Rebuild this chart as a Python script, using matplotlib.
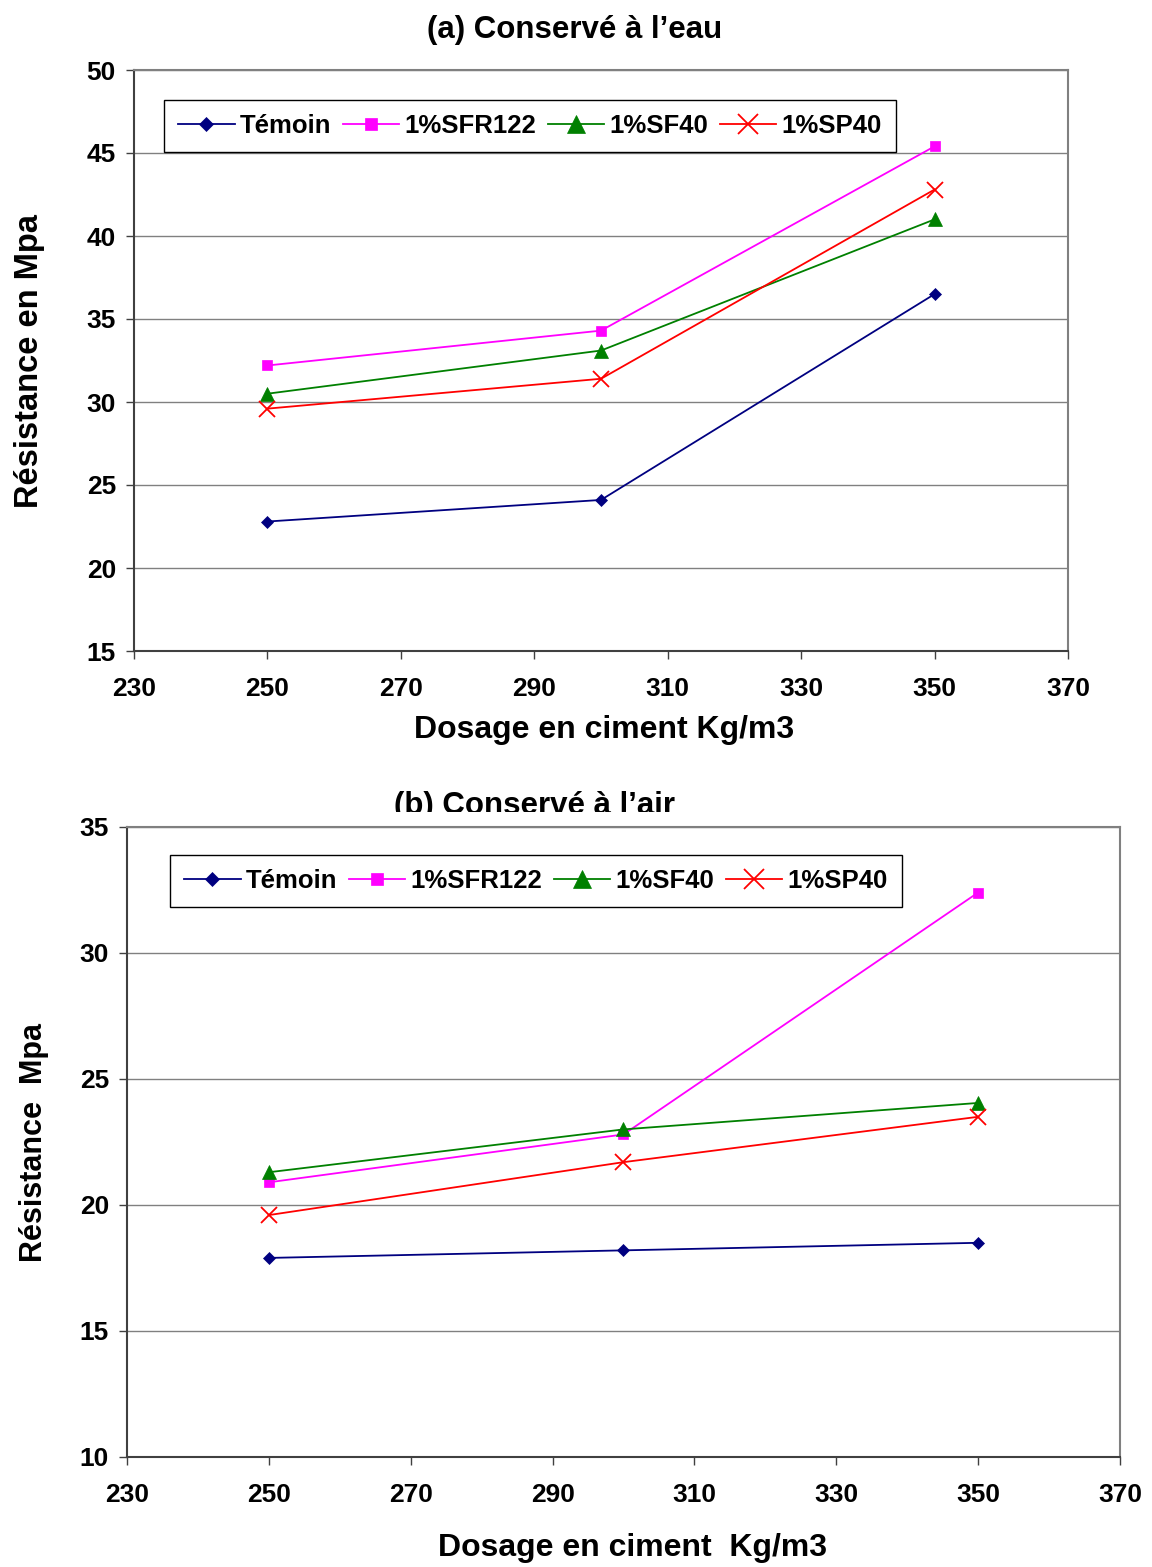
import matplotlib.pyplot as plt
from matplotlib.transforms import Bbox

# cement dosage (kg/m3)
dosage = [250, 300, 350]

# (a) cured in water
eau_temoin = [22.8, 24.1, 36.5]
eau_sfr122 = [32.2, 34.3, 45.4]
eau_sf40 = [30.5, 33.1, 41.0]
eau_sp40 = [29.6, 31.4, 42.8]

# (b) cured in air
air_temoin = [17.9, 18.2, 18.5]
air_sfr122 = [20.9, 22.8, 32.4]
air_sf40 = [21.3, 23.0, 24.05]
air_sp40 = [19.6, 21.7, 23.5]

labels = ['Témoin', '1%SFR122', '1%SF40', '1%SP40']
colors = ['#000080', '#FF00FF', '#008000', '#FF0000']
markers = ['D', 's', '^', 'x']
msizes = [6, 7, 10, 11]

plt.rcParams['font.family'] = ['Liberation Sans', 'DejaVu Sans']
plt.rcParams['font.weight'] = 'bold'

W, H = 1152, 1567
fig = plt.figure(figsize=(W / 100, H / 100), dpi=100)


def px(x0, y0, x1, y1):
    return [x0 / W, 1 - y1 / H, (x1 - x0) / W, (y1 - y0) / H]


def draw(ax, series, ylim, yticks, leg_box):
    for vals, lab, c, m, ms in zip(series, labels, colors, markers, msizes):
        ax.plot(dosage, vals, color=c, marker=m, markersize=ms, lw=1.3,
                label=lab, markeredgewidth=1.3 if m == 'x' else 0.5, zorder=3)
    ax.set_xlim(230, 370)
    ax.set_ylim(*ylim)
    ax.set_xticks(range(230, 371, 20))
    ax.set_yticks(yticks)
    ax.yaxis.grid(True, color='#808080', lw=1)
    ax.set_axisbelow(True)
    for s in ['top', 'right']:
        ax.spines[s].set_color('#808080')
        ax.spines[s].set_linewidth(1.5)
    for s in ['left', 'bottom']:
        ax.spines[s].set_color('#404040')
        ax.spines[s].set_linewidth(1.5)
    ax.tick_params(direction='out', length=6, width=1, color='#404040',
                   labelsize=19)
    ax.tick_params(axis='x', pad=13)
    ax.tick_params(axis='y', pad=7)
    for t in ax.get_xticklabels() + ax.get_yticklabels():
        t.set_fontweight('bold')
    x0, y0, x1, y1 = leg_box
    leg = ax.legend(loc='upper left', bbox_to_anchor=(x0 / W, 1 - y0 / H),
                    bbox_transform=fig.transFigure, ncol=4, fancybox=False,
                    edgecolor='black', framealpha=1, fontsize=18.5,
                    handlelength=2.2, handletextpad=0.2, columnspacing=0.45,
                    borderpad=0.55, borderaxespad=0, markerscale=1.25)
    leg.get_frame().set_linewidth(1)
    for t in leg.get_texts():
        t.set_fontweight('bold')


ax1 = fig.add_axes(px(134, 70, 1068, 651))
draw(ax1, [eau_temoin, eau_sfr122, eau_sf40, eau_sp40], (15, 50),
     range(15, 51, 5), (164, 100, 884, 155))

ax2 = fig.add_axes(px(127, 827, 1120, 1457))
draw(ax2, [air_temoin, air_sfr122, air_sf40, air_sp40], (10, 35),
     range(10, 36, 5), (170, 855, 892, 901))

fig.text(575 / W, 1 - 38 / H, '(a) Conservé à l’eau', ha='center',
         va='baseline', fontsize=22.5, fontweight='bold')
tb = fig.text(534 / W, 1 - 814 / H, '(b) Conservé à l’air', ha='center',
              va='baseline', fontsize=22.5, fontweight='bold')
tb.set_clip_box(Bbox([[0, H - 812], [W, H]]))
tb.set_clip_on(True)

fig.text(30 / W, 1 - 361 / H, 'Résistance en Mpa', rotation=90, ha='center',
         va='center', fontsize=23.5, fontweight='bold')
fig.text(604 / W, 1 - 730 / H, 'Dosage en ciment Kg/m3', ha='center',
         va='center', fontsize=23, fontweight='bold')
fig.text(34 / W, 1 - 1142 / H, 'Résistance  Mpa', rotation=90, ha='center',
         va='center', fontsize=22, fontweight='bold')
fig.text(633 / W, 1 - 1548 / H, 'Dosage en ciment  Kg/m3', ha='center',
         va='center', fontsize=23, fontweight='bold')

fig.savefig('out.png', dpi=100)
